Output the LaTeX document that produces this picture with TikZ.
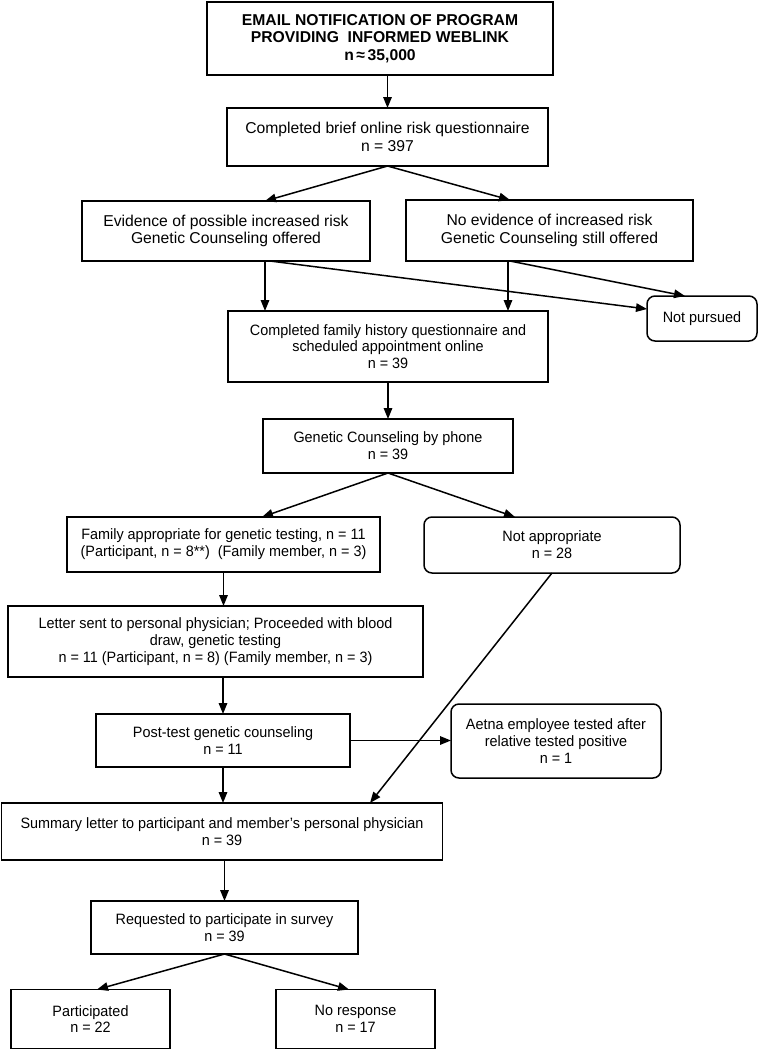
\documentclass[tikz,border=0pt]{standalone}
\usepackage{fontspec}
\setmainfont{Liberation Sans}
\newfontfamily\narrowsans[FakeStretch=0.96]{Liberation Sans}
\usetikzlibrary{arrows.meta}
\begin{document}
\begin{tikzpicture}[x=1pt,y=-1pt,
  box/.style={draw, line width=1.5pt, inner sep=0pt, outer sep=0pt, align=center,
    font=\narrowsans\fontsize{15}{16.8}\selectfont},
  bigbox/.style={box, font=\fontsize{15.7}{17.5}\selectfont},
  rbox/.style={box, rounded corners=8pt},
  arr/.style={line width=1.5pt, -{Triangle[length=11pt,width=8.5pt]}}]
\useasboundingbox (0,0) rectangle (758,1050);
\node[box, minimum width=346, minimum height=73, font=\fontsize{15.7}{17.5}\selectfont\bfseries] (top) at (380,38.5)
  {EMAIL NOTIFICATION OF PROGRAM\\PROVIDING\ \ INFORMED WEBLINK\\n\,≈\,35,000};
\node[bigbox, minimum width=321, minimum height=58] (q) at (387.5,137) {Completed brief online risk questionnaire\\n = 397};
\node[bigbox, minimum width=288, minimum height=60] (ev) at (226,231) {Evidence of possible increased risk\\Genetic Counseling offered};
\node[bigbox, minimum width=287, minimum height=61] (ne) at (549.5,230.5) {No evidence of increased risk\\Genetic Counseling still offered};
\node[rbox, minimum width=110, minimum height=45] (np) at (702,318.5) {Not pursued};
\node[box, minimum width=320, minimum height=71] (fh) at (388,346.5) {Completed family history questionnaire and\\scheduled appointment online\\n = 39};
\node[box, minimum width=250, minimum height=54] (gc) at (388,446) {Genetic Counseling by phone\\n = 39};
\node[box, minimum width=313, minimum height=55] (fa) at (223.5,544.5) {Family appropriate for genetic testing, n = 11\\(Participant, n = 8**)\ \ (Family member, n = 3)};
\node[rbox, minimum width=256, minimum height=56] (na) at (552,545) {Not appropriate\\n = 28};
\node[box, minimum width=415, minimum height=71] (lt) at (215.5,641.5) {Letter sent to personal physician; Proceeded with blood\\draw, genetic testing\\n = 11 (Participant, n = 8) (Family member, n = 3)};
\node[box, minimum width=254, minimum height=53] (pt) at (223,740.5) {Post-test genetic counseling\\n = 11};
\node[rbox, minimum width=210, minimum height=74] (ae) at (556,741) {Aetna employee tested after\\relative tested positive\\n = 1};
\node[box, minimum width=441, minimum height=57] (sm) at (222,831.5) {Summary letter to participant and member’s personal physician\\n = 39};
\node[box, minimum width=267, minimum height=53] (rq) at (224.5,927.5) {Requested to participate in survey\\n = 39};
\node[box, minimum width=159, minimum height=59] (pa) at (90.5,1019) {Participated\\n = 22};
\node[box, minimum width=159, minimum height=59] (nr) at (355.5,1019) {No response\\n = 17};

\draw[arr] (top.south -| q.north) -- (q.north);
\draw[arr] (q.south) -- ([xshift=39pt]ev.north);
\draw[arr] (q.south) -- ([xshift=-39.5pt]ne.north);
\draw[arr] ([xshift=39pt]ev.south) -- ([xshift=39pt]ev.south |- fh.north);
\draw[arr] ([xshift=44pt]ev.south) -- ([yshift=9.5pt]np.west);
\draw[arr] ([xshift=-41.5pt]ne.south) -- ([xshift=-41.5pt]ne.south |- fh.north);
\draw[arr] ([xshift=-39.5pt]ne.south) -- ([xshift=-17pt]np.north);
\draw[arr] (fh.south) -- (gc.north);
\draw[arr] (gc.south) -- ([xshift=38.5pt]fa.north);
\draw[arr] (gc.south) -- ([xshift=-37pt]na.north);
\draw[arr] (fa.south) -- (fa.south |- lt.north);
\draw[arr] (pt.north |- lt.south) -- (pt.north);
\draw[arr] (pt.east) -- (ae.west |- pt.east);
\draw[arr] (pt.south) -- (pt.south |- sm.north);
\draw[arr] (na.south) -- ([xshift=148pt]sm.north);
\draw[arr] (rq.north |- sm.south) -- (rq.north);
\draw[arr] (rq.south) -- ([xshift=6.5pt]pa.north);
\draw[arr] (rq.south) -- ([xshift=-6.5pt]nr.north);
\end{tikzpicture}
\end{document}
